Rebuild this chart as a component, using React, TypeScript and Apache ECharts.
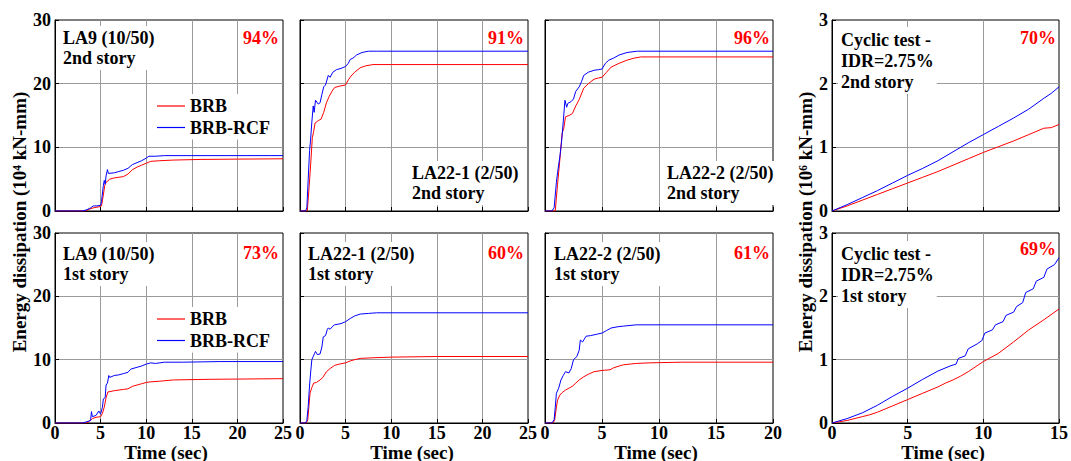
import React, { useEffect, useRef } from "react";
import * as echarts from "echarts";

const FONT = "Liberation Serif";

// ---- data: [time (sec), energy] ----
const la9S2Brb = [[0,0],[3.3,0],[3.8,0.3],[4.2,0.5],[4.6,0.6],[5.0,0.7],[5.1,0.8],[5.3,2.5],[5.45,4.0],[5.6,4.5],[6.0,5.0],[6.5,5.2],[7.0,5.3],[7.5,5.4],[8.0,5.8],[8.5,6.5],[9.0,6.9],[9.5,7.2],[10.0,7.5],[10.5,7.8],[11.5,7.9],[13,8.0],[16,8.1],[20,8.15],[25,8.2]];
const la9S2Rcf = [[0,0],[3.0,0],[3.5,0.2],[3.9,0.5],[4.2,0.8],[4.6,0.8],[5.0,0.9],[5.1,1.5],[5.3,4.0],[5.4,4.8],[5.5,4.2],[5.6,5.5],[5.75,6.5],[5.85,5.9],[6.5,6.0],[7.0,6.2],[7.5,6.4],[8.0,6.7],[8.5,7.3],[9.0,7.6],[9.5,7.9],[10.0,8.3],[10.3,8.6],[11,8.6],[12,8.7],[15,8.7],[25,8.7]];
const la221S2Brb = [[0,0],[0.8,0],[1.0,3.8],[1.2,8.0],[1.35,11.5],[1.5,12.5],[1.65,13.8],[2.0,14.2],[2.3,14.4],[2.6,15.5],[2.9,17.0],[3.2,18.0],[3.5,18.8],[3.8,19.4],[4.3,19.6],[5.0,19.8],[5.3,20.6],[5.6,21.2],[6.0,21.8],[6.6,22.5],[7.2,22.8],[8.0,23.0],[10,23.0],[25,23.0]];
const la221S2Rcf = [[0,0],[0.6,0],[0.75,0.5],[0.9,5.0],[1.05,9.5],[1.15,11.0],[1.3,14.0],[1.45,16.5],[1.55,15.5],[1.7,17.4],[2.0,16.8],[2.2,17.0],[2.4,18.3],[2.6,19.5],[2.8,19.8],[3.1,21.3],[3.3,21.0],[3.6,21.8],[4.0,22.2],[4.5,22.4],[5.0,22.7],[5.3,23.2],[5.5,23.8],[5.8,24.0],[6.2,24.5],[6.8,24.9],[7.5,25.1],[8.5,25.1],[25,25.1]];
const la222S2Brb = [[0,0],[0.9,0],[1.1,4.2],[1.3,8.0],[1.5,12.2],[1.65,13.0],[1.8,14.8],[2.1,15.0],[2.4,15.3],[2.7,16.5],[3.0,17.5],[3.4,19.3],[3.8,20.0],[4.3,20.7],[4.7,20.9],[5.0,21.0],[5.4,21.8],[5.8,22.6],[6.5,23.2],[7.2,23.7],[7.8,24.0],[8.4,24.2],[10,24.2],[20,24.2]];
const la222S2Rcf = [[0,0],[0.6,0],[0.8,0.5],[1.0,4.5],[1.1,6.0],[1.3,8.5],[1.45,10.8],[1.6,14.0],[1.75,17.4],[1.9,16.3],[2.0,16.9],[2.3,17.2],[2.5,17.6],[2.7,18.8],[3.0,19.5],[3.2,20.3],[3.4,21.3],[3.8,21.8],[4.3,22.1],[4.7,22.2],[5.0,22.3],[5.3,23.2],[5.6,23.7],[6.0,24.0],[6.5,24.5],[7.2,24.9],[8.1,25.1],[20,25.1]];
const cycS2Brb = [[0,0],[1,0.08],[2,0.17],[3,0.26],[4,0.35],[5,0.44],[6,0.53],[7,0.62],[8,0.72],[9,0.82],[10,0.92],[11,1.01],[12,1.1],[13,1.2],[14,1.3],[14.5,1.31],[15,1.36]];
const cycS2Rcf = [[0,0],[1,0.1],[2,0.21],[3,0.32],[4,0.44],[5,0.56],[6,0.67],[7,0.79],[8,0.93],[9,1.07],[10,1.2],[11,1.33],[12,1.46],[13,1.6],[14,1.77],[14.5,1.85],[15,1.95]];

const la9S1Brb = [[0,0],[3.5,0],[3.8,0.3],[4.1,0.7],[4.5,0.9],[5.0,1.0],[5.2,1.5],[5.4,2.5],[5.6,4.0],[5.8,4.9],[6.5,5.1],[7.5,5.3],[8.0,5.4],[8.5,5.8],[9.0,6.0],[9.5,6.2],[10.0,6.4],[10.5,6.5],[11.5,6.6],[13,6.8],[17,6.9],[25,7.0]];
const la9S1Rcf = [[0,0],[3.0,0],[3.5,0.2],[3.9,0.4],[4.0,1.8],[4.1,1.0],[4.5,1.2],[4.8,1.9],[5.0,1.4],[5.2,2.5],[5.3,3.8],[5.5,4.0],[5.6,6.0],[5.75,6.3],[5.9,7.5],[6.0,7.2],[6.5,7.5],[7.0,7.6],[7.5,7.8],[8.0,8.0],[8.3,8.5],[9.0,8.8],[9.5,9.0],[10.0,9.3],[10.5,9.5],[11.0,9.4],[12,9.6],[14,9.6],[18,9.7],[25,9.7]];
const la221S1Brb = [[0,0],[0.7,0],[0.85,0.5],[1.0,3.0],[1.1,4.7],[1.3,5.6],[1.5,6.3],[1.8,6.4],[2.2,6.8],[2.5,7.2],[2.9,8.1],[3.3,8.6],[3.8,9.1],[4.3,9.3],[5.0,9.5],[5.5,9.8],[6.0,10.0],[6.6,10.2],[8,10.3],[10,10.4],[15,10.5],[25,10.5]];
const la221S1Rcf = [[0,0],[0.6,0],[0.75,0.4],[0.9,2.6],[1.05,6.0],[1.2,8.5],[1.3,10.0],[1.45,10.5],[1.6,11.0],[1.7,11.3],[1.9,10.8],[2.2,10.9],[2.4,12.0],[2.55,13.6],[2.8,13.8],[3.0,14.8],[3.1,15.0],[3.3,14.8],[3.6,15.3],[3.8,15.5],[4.5,15.7],[5.0,16.0],[5.5,16.5],[6.0,16.9],[6.6,17.2],[7.5,17.3],[8.4,17.4],[25,17.4]];
const la222S1Brb = [[0,0],[0.7,0],[0.85,0.5],[1.0,2.5],[1.1,3.6],[1.3,4.4],[1.5,4.8],[1.8,5.2],[2.1,5.5],[2.4,5.8],[2.7,6.3],[3.0,6.8],[3.4,7.3],[3.8,7.7],[4.3,8.1],[5.0,8.3],[5.7,8.4],[6.0,8.7],[6.5,9.0],[6.9,9.2],[8,9.4],[9.2,9.5],[12,9.6],[20,9.6]];
const la222S1Rcf = [[0,0],[0.6,0],[0.8,0.5],[0.9,2.5],[1.0,4.7],[1.2,5.5],[1.4,6.8],[1.6,7.5],[1.8,8.1],[2.1,7.9],[2.3,8.6],[2.5,10.0],[2.8,10.5],[3.0,11.5],[3.1,13.1],[3.3,12.8],[3.6,13.7],[4.0,13.8],[4.5,14.0],[5.0,14.2],[5.4,14.6],[5.8,15.0],[6.4,15.2],[6.9,15.3],[8.0,15.5],[20,15.5]];
const cycS1Brb = [[0,0],[1,0.04],[2,0.1],[2.5,0.13],[3,0.17],[4,0.27],[5,0.37],[6,0.47],[7,0.57],[7.5,0.63],[8,0.68],[8.5,0.74],[9,0.81],[10,0.97],[11,1.1],[12,1.28],[13,1.47],[14,1.63],[15,1.8]];
const cycS1Rcf = [[0,0],[1,0.07],[2,0.16],[3,0.28],[4,0.42],[5,0.55],[6,0.69],[7,0.82],[7.8,0.9],[8.2,0.93],[8.35,1.02],[8.8,1.06],[9.0,1.17],[9.6,1.25],[9.9,1.3],[10.1,1.42],[10.6,1.47],[10.8,1.55],[11.3,1.6],[11.5,1.7],[12.0,1.75],[12.2,1.84],[12.6,1.9],[12.8,2.06],[13.3,2.12],[13.5,2.24],[14.0,2.3],[14.2,2.43],[14.7,2.5],[15,2.61]];

const brbSeries = [la9S2Brb, la221S2Brb, la222S2Brb, cycS2Brb, la9S1Brb, la221S1Brb, la222S1Brb, cycS1Brb];
const rcfSeries = [la9S2Rcf, la221S2Rcf, la222S2Rcf, cycS2Rcf, la9S1Rcf, la221S1Rcf, la222S1Rcf, cycS1Rcf];
const seriesNames = ["BRB", "BRB-RCF"];
const panelLabels = [
  "LA9 (10/50)\n2nd story", "LA22-1 (2/50)\n2nd story", "LA22-2 (2/50)\n2nd story", "Cyclic test -\nIDR=2.75%\n2nd story",
  "LA9 (10/50)\n1st story", "LA22-1 (2/50)\n1st story", "LA22-2 (2/50)\n1st story", "Cyclic test -\nIDR=2.75%\n1st story",
];
const panelPercents = ["94%", "91%", "96%", "70%", "73%", "60%", "61%", "69%"];
const xMaxes = [25, 25, 20, 15, 25, 25, 20, 15];
const yMaxes = [30, 30, 30, 3, 30, 30, 30, 3];
const yIntervals = [10, 10, 10, 1, 10, 10, 10, 1];
const xTitle = "Time (sec)";
const yTitleLeft = "Energy dissipation (10\u2074 kN-mm)";
const yTitleRight = "Energy dissipation (10\u2076 kN-mm)";

// layout
const gridBoxes = [
  { left: 55, top: 20, width: 228, height: 191 },
  { left: 300, top: 20, width: 228, height: 191 },
  { left: 545, top: 20, width: 228, height: 191 },
  { left: 832, top: 20, width: 227, height: 191 },
  { left: 55, top: 233, width: 228, height: 190 },
  { left: 300, top: 233, width: 228, height: 190 },
  { left: 545, top: 233, width: 228, height: 190 },
  { left: 832, top: 233, width: 227, height: 190 },
];
const labelPos = [
  [60, 26], [409, 161], [664, 161], [838, 27],
  [60, 242], [305, 242], [551, 242], [838, 241],
];
const pctPos = [
  [279, 28], [524, 28], [770, 28], [1056, 28],
  [279, 243], [524, 243], [770, 243], [1056, 239],
];
const xTitleX = [166, 412, 656, 943];

export default function App() {
  const ref = useRef<HTMLDivElement>(null);
  useEffect(() => {
    if (!ref.current) return;
    const chart = echarts.init(ref.current, undefined, { renderer: "svg" });
    const grids = gridBoxes.map((g) => ({
      ...g,
      show: true,
      borderColor: "#000",
      borderWidth: 1,
      backgroundColor: "#fff",
      containLabel: false,
    }));
    const xAxes = gridBoxes.map((_, i) => ({
      type: "value",
      gridIndex: i,
      min: 0,
      max: xMaxes[i],
      interval: 5,
      axisLine: { show: true, onZero: false, lineStyle: { color: "#000", width: 1 } },
      axisTick: { show: true, inside: true, length: 4, lineStyle: { color: "#000" } },
      splitLine: { show: true, showMinLine: false, showMaxLine: false, lineStyle: { color: "#9a9a9a", width: 1 } },
      axisLabel: {
        show: i >= 4,
        margin: 2,
        lineHeight: 16,
        showMinLabel: true,
        showMaxLabel: true,
        color: "#000",
        fontFamily: FONT,
        fontWeight: "bold",
        fontSize: 18,
      },
    }));
    const yAxes = gridBoxes.map((_, i) => ({
      type: "value",
      gridIndex: i,
      min: 0,
      max: yMaxes[i],
      interval: yIntervals[i],
      axisLine: { show: true, onZero: false, lineStyle: { color: "#000", width: 1 } },
      axisTick: { show: true, inside: true, length: 4, lineStyle: { color: "#000" } },
      splitLine: { show: true, showMinLine: false, showMaxLine: false, lineStyle: { color: "#9a9a9a", width: 1 } },
      axisLabel: {
        show: i === 0 || i === 3 || i === 4 || i === 7,
        margin: 4,
        lineHeight: 16,
        showMinLabel: true,
        showMaxLabel: true,
        color: "#000",
        fontFamily: FONT,
        fontWeight: "bold",
        fontSize: 18,
      },
    }));
    const series: any[] = [];
    for (let i = 0; i < 8; i++) {
      series.push({
        name: seriesNames[0], type: "line", xAxisIndex: i, yAxisIndex: i,
        data: brbSeries[i], symbol: "none", lineStyle: { color: "#ff0000", width: 1 }, itemStyle: { color: "#ff0000" }, z: 3,
      });
      series.push({
        name: seriesNames[1], type: "line", xAxisIndex: i, yAxisIndex: i,
        data: rcfSeries[i], symbol: "none", lineStyle: { color: "#0000ff", width: 1 }, itemStyle: { color: "#0000ff" }, z: 4,
      });
    }
    const legendBase = {
      orient: "vertical",
      data: seriesNames,
      icon: "rect",
      itemWidth: 28,
      itemHeight: 1.2,
      itemGap: 1.5,
      selectedMode: false,
      backgroundColor: "#fff",
      padding: [2, 4, 2, 4],
      textStyle: { fontFamily: FONT, fontWeight: "bold", fontSize: 18, lineHeight: 20, color: "#000" },
    };
    const legends = [
      { ...legendBase, left: 153, top: 94 },
      { ...legendBase, left: 153, top: 307 },
    ];
    const txt = (size: number) => ({ fontFamily: FONT, fontWeight: "bold", fontSize: size });
    const graphics: any[] = [];
    for (let i = 0; i < 8; i++) {
      graphics.push({
        type: "text", x: labelPos[i][0], y: labelPos[i][1], z: 100,
        style: {
          text: panelLabels[i], fill: "#000", ...txt(18), lineHeight: i % 4 === 3 ? 21 : 20,
          align: "left", verticalAlign: "top", backgroundColor: "#fff", padding: [2, 3, 2, 3],
        },
      });
      graphics.push({
        type: "text", x: pctPos[i][0], y: pctPos[i][1], z: 100,
        style: {
          text: panelPercents[i], fill: "#ff0000", ...txt(18), lineHeight: 20,
          align: "right", verticalAlign: "top",
        },
      });
    }
    xTitleX.forEach((x) => {
      graphics.push({
        type: "text", x, y: 452, z: 100,
        style: { text: xTitle, fill: "#000", ...txt(19), lineHeight: 18, align: "center", verticalAlign: "middle" },
      });
    });
    graphics.push({
      type: "text", x: 19, y: 222, rotation: Math.PI / 2, z: 100,
      style: { text: yTitleLeft, fill: "#000", ...txt(19), align: "center", verticalAlign: "middle" },
    });
    graphics.push({
      type: "text", x: 805, y: 222, rotation: Math.PI / 2, z: 100,
      style: { text: yTitleRight, fill: "#000", ...txt(19), align: "center", verticalAlign: "middle" },
    });
    chart.setOption({
      animation: false,
      backgroundColor: "#fff",
      grid: grids,
      xAxis: xAxes,
      yAxis: yAxes,
      legend: legends,
      series,
      graphic: graphics,
    });
    return () => chart.dispose();
  }, []);
  return (
    <div
      ref={ref}
      style={{ position: "fixed", left: 0, top: 0, width: 1071, height: 461, background: "#fff" }}
    />
  );
}
